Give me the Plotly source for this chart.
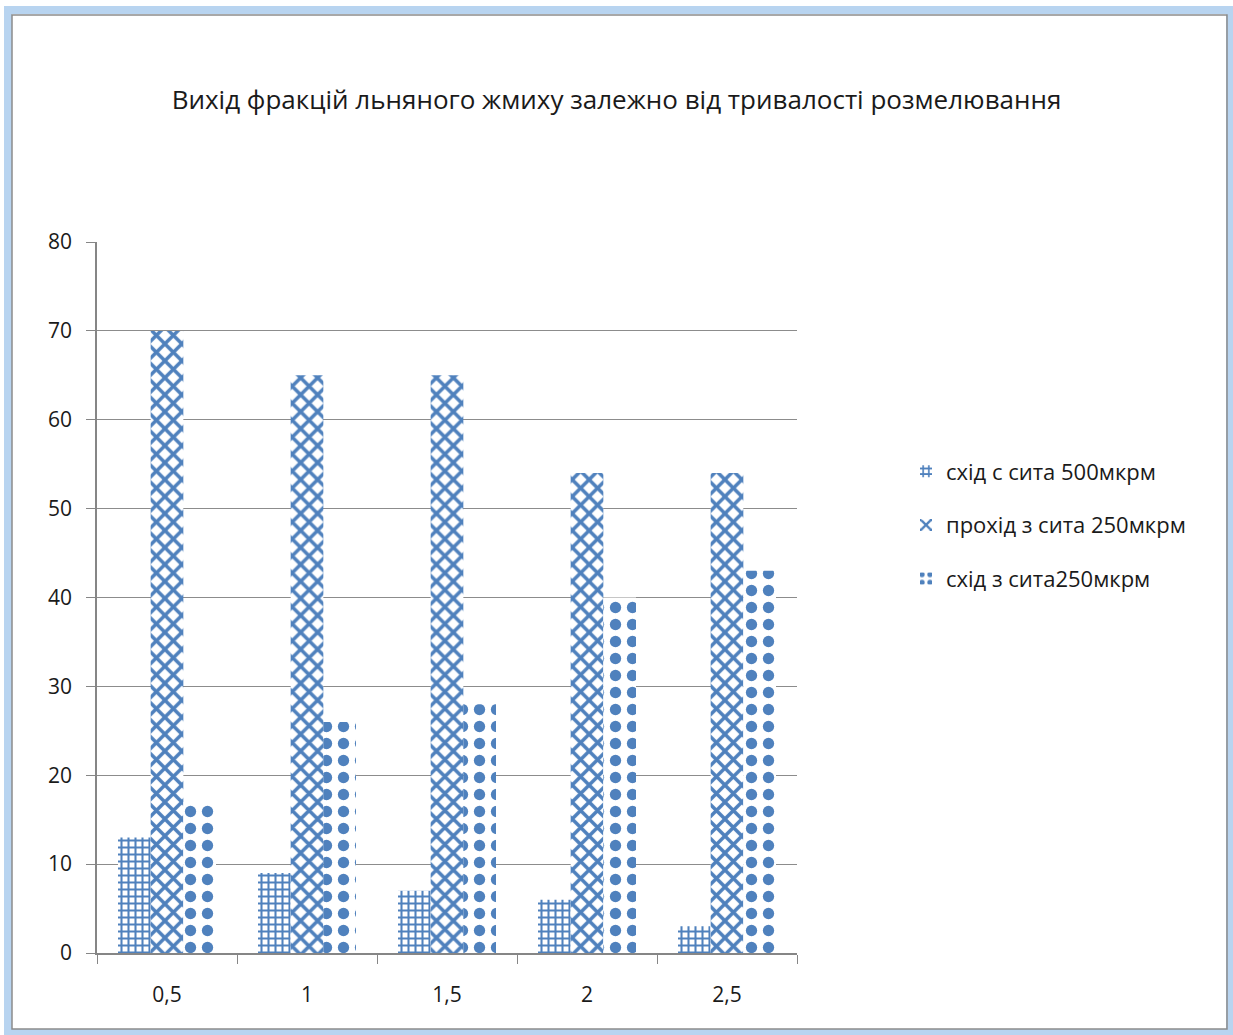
import plotly.graph_objects as go

categories = ["0,5", "1", "1,5", "2", "2,5"]
series_names = ["схід с сита 500мкрм", "прохід з сита 250мкрм", "схід з сита250мкрм"]
s500 = [13, 9, 7, 6, 3]
p250 = [70, 65, 65, 54, 54]
s250 = [17, 26, 28, 40, 43]
y_ticks = [0, 10, 20, 30, 40, 50, 60, 70, 80]

BLUE = "#4F81BD"
W, H = 1233, 1035
L, R, T, B = 97, 436, 242, 82
PW, PH = W - L - R, H - T - B

patterns = [
    dict(shape="+", size=7, solidity=0.5),
    dict(shape="x", size=12, solidity=0.5),
    dict(shape=".", size=17, solidity=0.35),
]

fig = go.Figure()
for i, (name, vals) in enumerate(zip(series_names, [s500, p250, s250])):
    p = patterns[i]
    fig.add_trace(go.Bar(
        x=categories, y=vals, name=name, legendgroup=str(i),
        marker=dict(color="white", line=dict(width=0),
                    pattern=dict(shape=p["shape"], size=p["size"], solidity=p["solidity"],
                                 fgcolor=BLUE, bgcolor="white", fillmode="replace")),
    ))

def px(x):
    return (x - L) / PW

def py(y):
    return (H - B - y) / PH

shapes = [
    dict(type="rect", xref="paper", yref="paper", x0=px(8), x1=px(1230), y0=py(10), y1=py(1033),
         line=dict(color="#B8D4F0", width=8), layer="below"),
    dict(type="rect", xref="paper", yref="paper", x0=px(12), x1=px(1227), y0=py(15), y1=py(1029),
         line=dict(color="#8C8C8C", width=1.5), layer="below"),
]

FONT = "Open Sans, Noto Sans, sans-serif"

fig.update_layout(
    width=W, height=H,
    margin=dict(l=L, r=R, t=T, b=B, pad=0),
    paper_bgcolor="white", plot_bgcolor="white",
    barmode="group", bargap=0.3, bargroupgap=0,
    title=dict(text="Вихід фракцій льняного жмиху залежно від тривалості розмелювання",
               x=0.5, xref="container", xanchor="center", y=1 - 100 / H, yref="container",
               yanchor="middle",
               font=dict(family=FONT, size=26, color="#1a1a1a")),
    font=dict(family=FONT, color="#1a1a1a"),
    xaxis=dict(type="category", showline=True, linecolor="#868686", linewidth=1.5,
               ticks="outside", tickson="boundaries", ticklen=9, tickcolor="#868686",
               tickfont=dict(size=21), showgrid=False, ticklabelstandoff=22),
    yaxis=dict(range=[0, 80], tickvals=y_ticks, showline=True, linecolor="#868686", linewidth=1.5,
               ticks="outside", ticklen=9, tickcolor="#868686", showgrid=True,
               gridcolor="#8C8C8C", gridwidth=1.2, tickfont=dict(size=21), zeroline=False,
               ticklabelstandoff=10),
    legend=dict(x=px(906), y=py(525), xanchor="left", yanchor="middle",
                font=dict(size=22), tracegroupgap=22, itemwidth=30,
                bgcolor="rgba(0,0,0,0)"),
    shapes=shapes,
)

fig.write_html("out.html")
